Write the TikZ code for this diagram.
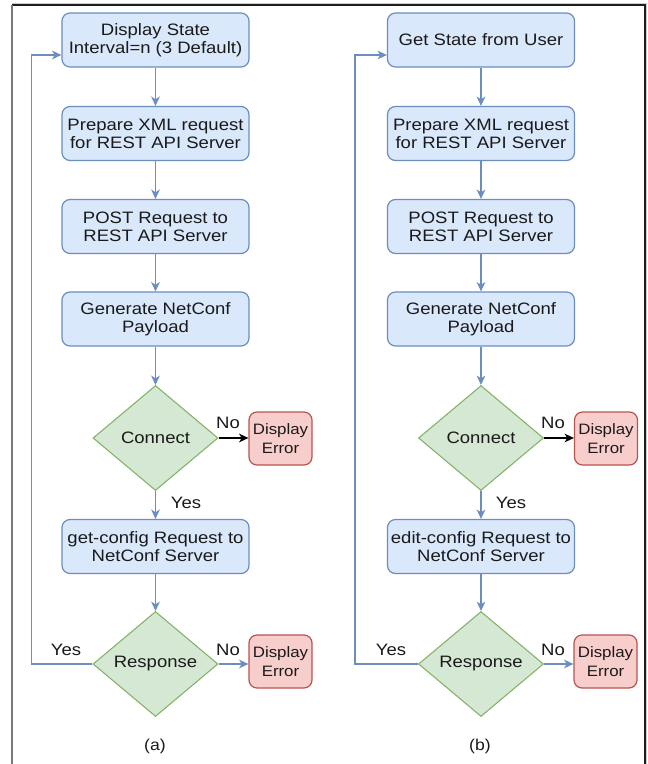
\documentclass[tikz,border=0pt]{standalone}
\usepackage{fontspec}
\setmainfont{Liberation Sans}[FakeStretch=1.12]
\usetikzlibrary{arrows.meta,calc,shapes.geometric}
\definecolor{bfill}{HTML}{DAE8FC}
\definecolor{bline}{HTML}{6C8EBF}
\definecolor{gfill}{HTML}{D5E8D4}
\definecolor{gline}{HTML}{82B366}
\definecolor{rfill}{HTML}{F8CECC}
\definecolor{rline}{HTML}{B85450}
\definecolor{txt}{HTML}{1A1A1A}
\definecolor{frameL}{HTML}{7A7A7A}
\definecolor{frameD}{HTML}{1E1E1E}
\definecolor{frameS}{HTML}{CCCCCC}
\begin{document}
\begin{tikzpicture}[x=0.75pt,y=-0.75pt,
 every node/.style={font=\fontsize{12.4pt}{13.5pt}\selectfont, text=txt},
 proc/.style={draw=bline, fill=bfill, line width=0.9pt, rounded corners=6pt, minimum width=140.25pt, minimum height=40.5pt, align=center, inner sep=0pt},
 dec/.style={diamond, draw=gline, fill=gfill, line width=0.8pt, minimum width=93.75pt, minimum height=78.75pt, inner sep=0pt},
 err/.style={draw=rline, fill=rfill, line width=0.9pt, rounded corners=6pt, minimum width=47.25pt, minimum height=39.75pt, align=center, inner sep=0pt, font=\fontsize{11.3pt}{14pt}\selectfont},
 arr/.style={draw=bline, line width=1.1pt, -{Stealth[length=7pt,width=6.5pt,inset=2pt]}},
 lbl/.style={inner sep=0pt},
 captxt/.style={inner sep=0pt, font=\fontsize{11.8pt}{13pt}\selectfont}
]
\fill[white] (0,0) rectangle (648,764);
\useasboundingbox (0,0) rectangle (648,764);
% frame
\draw[frameS, line width=0.8pt] (12,3.5) -- (646.5,3.5) -- (646.5,764);
\draw[frameD, line width=1.1pt] (12,5) -- (645,5) -- (645,764);
\draw[frameL, line width=1.4pt] (12,5) -- (12,764);

% ---------- (a) ----------
\node[proc] (a1) at (155.5,40) {Display State\\Interval=n (3 Default)};
\node[proc] (a2) at (155.5,133.5) {Prepare XML request\\for REST API Server};
\node[proc] (a3) at (155.5,226.5) {POST Request to\\REST API Server};
\node[proc] (a4) at (155.5,319) {Generate NetConf\\Payload};
\node[dec] (a5) at (155.5,438) {Connect};
\node[err] (a6) at (280.5,438.5) {Display\\Error};
\node[proc] (a7) at (155.5,546.5) {get-config Request to\\NetConf Server};
\node[dec] (a8) at (155.5,664) {Response};
\node[err] (a9) at (280.5,661.5) {Display\\Error};
\coordinate (la) at (31.5,55);

\draw[arr] (a1) -- (a2);
\draw[arr] (a2) -- (a3);
\draw[arr] (a3) -- (a4);
\draw[arr] (a4) -- (a5);
\draw[arr] (a5) -- (a7);
\draw[arr] (a7) -- (a8);
\draw[arr, draw=black] (a5.east) -- (a5.east -| a6.west);
\draw[arr] (a8.east) -- (a8.east -| a9.west);
\draw[arr] (a8.west) -| (la) -- (la -| a1.west);

\node[lbl] (an1) at (228,423) {No};
\node[lbl] (ay1) at (186,503) {Yes};
\node[lbl] (an2) at (228,650) {No};
\node[lbl] (ay2) at (66,650) {Yes};
\node[captxt] (ca) at (155,746) {(a)};

% ---------- (b) ----------
\node[proc] (b1) at (481,40) {Get State from User};
\node[proc] (b2) at (481,133.5) {Prepare XML request\\for REST API Server};
\node[proc] (b3) at (481,226.5) {POST Request to\\REST API Server};
\node[proc] (b4) at (481,319) {Generate NetConf\\Payload};
\node[dec] (b5) at (481,438) {Connect};
\node[err] (b6) at (606,438.5) {Display\\Error};
\node[proc] (b7) at (481,546.5) {edit-config Request to\\NetConf Server};
\node[dec] (b8) at (481,664) {Response};
\node[err] (b9) at (605.5,661.5) {Display\\Error};
\coordinate (lb) at (355,55);

\draw[arr] (b1) -- (b2);
\draw[arr] (b2) -- (b3);
\draw[arr] (b3) -- (b4);
\draw[arr] (b4) -- (b5);
\draw[arr] (b5) -- (b7);
\draw[arr] (b7) -- (b8);
\draw[arr, draw=black] (b5.east) -- (b5.east -| b6.west);
\draw[arr] (b8.east) -- (b8.east -| b9.west);
\draw[arr] (b8.west) -| (lb) -- (lb -| b1.west);

\node[lbl] (bn1) at (553,423) {No};
\node[lbl] (by1) at (511,503) {Yes};
\node[lbl] (bn2) at (553,650) {No};
\node[lbl] (by2) at (391,650) {Yes};
\node[captxt] (cb) at (480,746) {(b)};
\end{tikzpicture}
\end{document}
